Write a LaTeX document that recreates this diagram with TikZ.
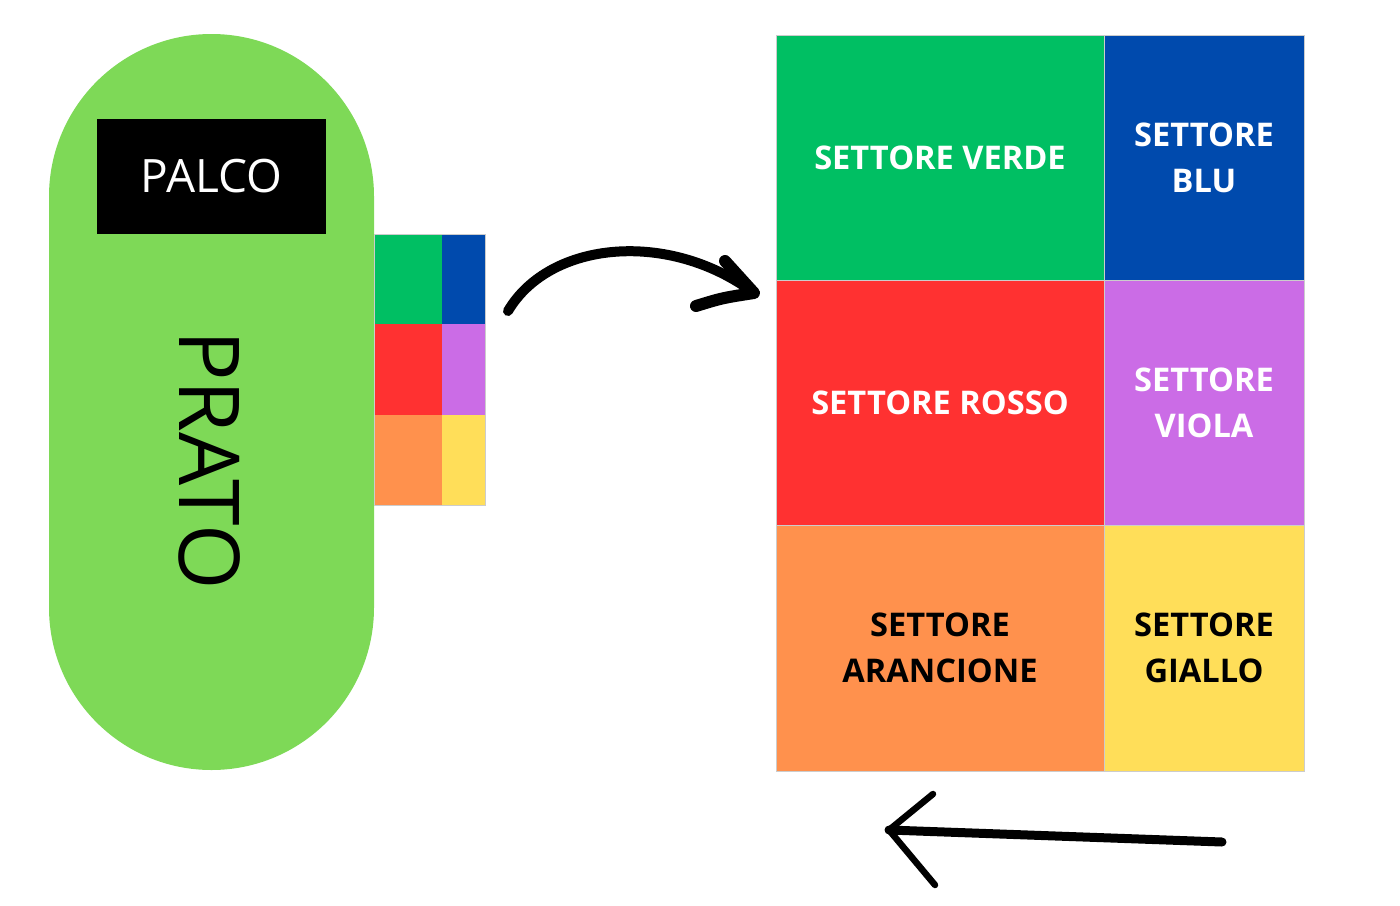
\documentclass[tikz,border=0pt]{standalone}
\usepackage{fontspec}
\setmainfont{Open Sans}
\usetikzlibrary{positioning}
\definecolor{prato}{HTML}{7ED957}
\definecolor{verde}{HTML}{00BF63}
\definecolor{blu}{HTML}{004AAD}
\definecolor{rosso}{HTML}{FF3131}
\definecolor{viola}{HTML}{CB6CE6}
\definecolor{arancione}{HTML}{FF914D}
\definecolor{giallo}{HTML}{FFDE59}

\begin{document}
\begin{tikzpicture}[
		x=1pt, y=-1pt, % one unit = one pixel of the layout
		sector/.style={rectangle, inner sep=0pt, outer sep=0pt, minimum width=328pt, minimum height=245.3pt, align=center, font=\bfseries\fontsize{32.6}{46}\selectfont, text=white},
		narrow/.style={minimum width=200pt},
		mini/.style={rectangle, inner sep=0pt, outer sep=0pt, minimum width=68pt, minimum height=90.33pt},
		thinmini/.style={minimum width=43pt},
		scribble/.style={line width=10pt, line cap=round, line join=round},
		gridline/.style={draw=black!20, line width=0.5pt}
		]
		
		% Page frame
		\useasboundingbox (0,0) rectangle (1400,905);
		
		% Prato
		\node[rectangle, fill=prato, rounded corners=162.5pt, minimum width=325pt, minimum height=736pt, inner sep=0pt, outer sep=0pt] (campo) at (211.5,402) {};
		\node[rectangle, fill=black, text=white, minimum width=229pt, minimum height=115pt, inner sep=0pt, font=\fontsize{46}{50}\selectfont] (palco) at (211.5,176.5) {PALCO};
		\node[rotate=-90, inner sep=0pt, font=\fontsize{84}{90}\selectfont] (prato-lbl) at (210,460) {PRATO};
		
		% Small map of the sectors
		\node[mini, fill=verde] (m-verde) at (408,279.2) {};
		\node[mini, thinmini, fill=blu, right=0pt of m-verde] (m-blu) {};
		\node[mini, fill=rosso, below=0pt of m-verde] (m-rosso) {};
		\node[mini, thinmini, fill=viola, right=0pt of m-rosso] (m-viola) {};
		\node[mini, fill=arancione, below=0pt of m-rosso] (m-arancione) {};
		\node[mini, thinmini, fill=giallo, right=0pt of m-arancione] (m-giallo) {};
		\draw[gridline] (m-verde.north west) rectangle (m-giallo.south east);
		
		% Large map of the sectors
		\node[sector, fill=verde] (verde) at (940,157.5) {SETTORE VERDE};
		\node[sector, narrow, fill=blu, right=0pt of verde] (blu) {SETTORE\\BLU};
		\node[sector, fill=rosso, below=0pt of verde] (rosso) {SETTORE ROSSO};
		\node[sector, narrow, fill=viola, right=0pt of rosso] (viola) {SETTORE\\VIOLA};
		\node[sector, fill=arancione, text=black, below=0pt of rosso] (arancione) {SETTORE\\ARANCIONE};
		\node[sector, narrow, fill=giallo, text=black, right=0pt of arancione] (giallo) {SETTORE\\GIALLO};
		\draw[gridline] (verde.north west) rectangle (giallo.south east);
		\draw[gridline] (verde.north east) -- (arancione.south east);
		\draw[gridline] (verde.south west) -- (blu.south east);
		\draw[gridline] (rosso.south west) -- (viola.south east);
		
		% Arrows
		\coordinate (a-start) at (508,311);
		\coordinate (a-tip) at (754,293);
		\coordinate (a-up) at (725,261);
		\coordinate (a-low) at (696,306);
		\draw[scribble] (a-start) .. controls (550,240) and (670,230) .. (a-tip);
		\draw[scribble, line width=12pt] (a-up) -- (a-tip) .. controls (722,298) .. (a-low);
		
		\coordinate (b-start) at (1222,842);
		\coordinate (b-tip) at (889,830);
		\coordinate (b-up) at (933,794);
		\coordinate (b-low) at (935,885);
		\draw[scribble, line width=9pt] (b-start) -- (b-tip);
		\draw[scribble, line width=6.5pt] (b-up) -- (b-tip) -- (b-low);
	\end{tikzpicture}
\end{document}
